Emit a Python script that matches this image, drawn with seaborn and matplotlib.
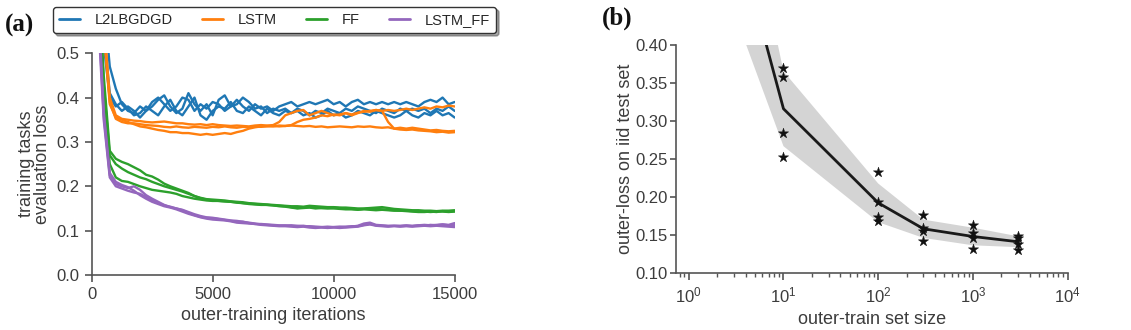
import numpy as np
import pandas as pd
import matplotlib
matplotlib.use("Agg")
import matplotlib.pyplot as plt
import seaborn as sns

# ---- panel (a): evaluation loss during outer training, three runs per model ----
iterations = list(range(0, 15001, 250))

l2lbgdgd_runs = [
    [1.5, 0.9, 0.62, 0.47, 0.42, 0.385, 0.37, 0.365, 0.38, 0.37, 0.39, 0.40, 0.385, 0.37, 0.38, 0.40,
     0.395, 0.37, 0.385, 0.375, 0.39, 0.385, 0.37, 0.38, 0.395, 0.38, 0.37, 0.385, 0.375, 0.38, 0.37,
     0.38, 0.385, 0.39, 0.38, 0.385, 0.39, 0.385, 0.39, 0.395, 0.385, 0.39, 0.38, 0.39, 0.395, 0.385,
     0.39, 0.385, 0.39, 0.385, 0.39, 0.385, 0.39, 0.385, 0.38, 0.39, 0.395, 0.39, 0.40, 0.385, 0.39],
    [1.2, 0.75, 0.52, 0.40, 0.38, 0.39, 0.375, 0.36, 0.365, 0.38, 0.37, 0.36, 0.38, 0.395, 0.37, 0.36,
     0.38, 0.40, 0.36, 0.35, 0.37, 0.38, 0.375, 0.39, 0.37, 0.365, 0.38, 0.37, 0.36, 0.375, 0.365,
     0.36, 0.37, 0.365, 0.37, 0.36, 0.365, 0.355, 0.36, 0.37, 0.36, 0.365, 0.355, 0.36, 0.37, 0.365,
     0.36, 0.37, 0.365, 0.36, 0.355, 0.36, 0.37, 0.36, 0.355, 0.365, 0.36, 0.37, 0.36, 0.365, 0.355],
    [1.3, 0.8, 0.55, 0.41, 0.385, 0.37, 0.38, 0.37, 0.355, 0.37, 0.38, 0.395, 0.405, 0.38, 0.365, 0.375,
     0.41, 0.385, 0.37, 0.385, 0.36, 0.395, 0.405, 0.38, 0.385, 0.40, 0.39, 0.375, 0.38, 0.365, 0.375,
     0.37, 0.375, 0.365, 0.375, 0.37, 0.36, 0.37, 0.365, 0.375, 0.37, 0.365, 0.375, 0.37, 0.38, 0.375,
     0.37, 0.365, 0.375, 0.37, 0.365, 0.375, 0.37, 0.375, 0.37, 0.375, 0.365, 0.375, 0.37, 0.38, 0.37],
]

lstm_runs = [
    [1.2, 0.8, 0.55, 0.385, 0.355, 0.35, 0.345, 0.34, 0.335, 0.333, 0.33, 0.327, 0.325, 0.322, 0.322,
     0.32, 0.32, 0.318, 0.316, 0.318, 0.316, 0.318, 0.32, 0.318, 0.322, 0.325, 0.33, 0.333, 0.335, 0.335,
     0.336, 0.335, 0.336, 0.337, 0.336, 0.335, 0.336, 0.334, 0.335, 0.333, 0.334, 0.335, 0.334, 0.333,
     0.335, 0.334, 0.335, 0.333, 0.332, 0.333, 0.33, 0.328, 0.327, 0.328, 0.326, 0.325, 0.324, 0.322,
     0.323, 0.321, 0.322],
    [1.3, 0.85, 0.58, 0.40, 0.36, 0.352, 0.35, 0.348, 0.347, 0.345, 0.344, 0.345, 0.346, 0.344, 0.342,
     0.342, 0.34, 0.339, 0.34, 0.338, 0.34, 0.338, 0.337, 0.336, 0.337, 0.336, 0.335, 0.337, 0.338, 0.337,
     0.338, 0.345, 0.36, 0.365, 0.37, 0.372, 0.36, 0.365, 0.37, 0.365, 0.36, 0.362, 0.365, 0.36, 0.365,
     0.37, 0.368, 0.372, 0.37, 0.372, 0.37, 0.372, 0.375, 0.372, 0.375, 0.378, 0.375, 0.38, 0.378, 0.382,
     0.38],
    [1.25, 0.82, 0.56, 0.39, 0.352, 0.345, 0.342, 0.342, 0.34, 0.338, 0.337, 0.336, 0.334, 0.333, 0.335,
     0.333, 0.332, 0.334, 0.333, 0.332, 0.334, 0.333, 0.335, 0.333, 0.332, 0.334, 0.333, 0.335, 0.334,
     0.336, 0.335, 0.337, 0.336, 0.338, 0.345, 0.35, 0.352, 0.355, 0.36, 0.358, 0.362, 0.36, 0.365, 0.362,
     0.366, 0.368, 0.37, 0.372, 0.37, 0.345, 0.33, 0.332, 0.33, 0.332, 0.33, 0.328, 0.326, 0.327, 0.325,
     0.324, 0.325],
]

ff_runs = [
    [1.1, 0.7, 0.45, 0.28, 0.262, 0.255, 0.25, 0.243, 0.236, 0.226, 0.222, 0.215, 0.206, 0.2, 0.195, 0.19,
     0.185, 0.178, 0.174, 0.171, 0.17, 0.169, 0.168, 0.166, 0.165, 0.164, 0.162, 0.161, 0.16, 0.159, 0.158,
     0.157, 0.156, 0.155, 0.155, 0.154, 0.156, 0.155, 0.154, 0.153, 0.153, 0.152, 0.152, 0.151, 0.15, 0.15,
     0.151, 0.152, 0.153, 0.151, 0.149, 0.148, 0.147, 0.146, 0.146, 0.145, 0.145, 0.144, 0.145, 0.145,
     0.146],
    [1.15, 0.72, 0.43, 0.27, 0.25, 0.24, 0.232, 0.226, 0.22, 0.216, 0.21, 0.205, 0.2, 0.196, 0.192, 0.188,
     0.183, 0.178, 0.173, 0.17, 0.168, 0.167, 0.166, 0.165, 0.164, 0.162, 0.161, 0.16, 0.159, 0.158, 0.157,
     0.156, 0.155, 0.153, 0.151, 0.152, 0.153, 0.152, 0.151, 0.151, 0.152, 0.151, 0.15, 0.149, 0.148, 0.149,
     0.15, 0.149, 0.148, 0.147, 0.146, 0.145, 0.145, 0.144, 0.143, 0.143, 0.142, 0.143, 0.143, 0.142,
     0.143],
    [1.05, 0.66, 0.4, 0.25, 0.22, 0.212, 0.21, 0.205, 0.2, 0.196, 0.192, 0.19, 0.188, 0.186, 0.183, 0.178,
     0.175, 0.172, 0.17, 0.168, 0.167, 0.167, 0.166, 0.165, 0.163, 0.162, 0.16, 0.159, 0.158, 0.158, 0.157,
     0.155, 0.154, 0.152, 0.15, 0.151, 0.152, 0.15, 0.151, 0.15, 0.15, 0.149, 0.148, 0.148, 0.147, 0.148,
     0.147, 0.146, 0.147, 0.146, 0.145, 0.145, 0.144, 0.143, 0.142, 0.142, 0.143, 0.142, 0.144, 0.143,
     0.144],
]

lstm_ff_runs = [
    [1.0, 0.62, 0.36, 0.225, 0.205, 0.2, 0.196, 0.2, 0.192, 0.18, 0.172, 0.165, 0.158, 0.153, 0.15, 0.146,
     0.14, 0.135, 0.131, 0.129, 0.128, 0.126, 0.124, 0.122, 0.12, 0.12, 0.118, 0.116, 0.114, 0.113, 0.112,
     0.111, 0.111, 0.112, 0.11, 0.111, 0.109, 0.108, 0.108, 0.107, 0.108, 0.109, 0.108, 0.109, 0.111,
     0.116, 0.118, 0.113, 0.112, 0.111, 0.111, 0.11, 0.111, 0.11, 0.112, 0.111, 0.113, 0.112, 0.114,
     0.113, 0.117],
    [1.05, 0.64, 0.37, 0.23, 0.21, 0.203, 0.198, 0.19, 0.18, 0.172, 0.165, 0.16, 0.155, 0.152, 0.148,
     0.143, 0.138, 0.134, 0.13, 0.127, 0.125, 0.124, 0.123, 0.121, 0.118, 0.117, 0.116, 0.115, 0.113,
     0.112, 0.111, 0.11, 0.11, 0.109, 0.108, 0.109, 0.107, 0.106, 0.107, 0.106, 0.107, 0.106, 0.107, 0.108,
     0.109, 0.112, 0.114, 0.111, 0.11, 0.109, 0.11, 0.109, 0.11, 0.109, 0.11, 0.111, 0.11, 0.111, 0.11,
     0.109, 0.108],
    [0.95, 0.6, 0.35, 0.22, 0.2, 0.195, 0.19, 0.186, 0.183, 0.176, 0.168, 0.162, 0.157, 0.154, 0.15, 0.147,
     0.142, 0.137, 0.133, 0.13, 0.129, 0.127, 0.125, 0.123, 0.122, 0.12, 0.117, 0.115, 0.115, 0.114, 0.113,
     0.112, 0.112, 0.111, 0.111, 0.11, 0.11, 0.109, 0.108, 0.109, 0.108, 0.108, 0.109, 0.11, 0.11, 0.113,
     0.115, 0.112, 0.111, 0.11, 0.111, 0.111, 0.112, 0.111, 0.112, 0.113, 0.112, 0.113, 0.114, 0.112,
     0.113],
]

model_names = ["L2LBGDGD", "LSTM", "FF", "LSTM_FF"]
model_colors = ["#1f77b4", "#ff7f0e", "#2ca02c", "#9467bd"]

# ---- panel (b): outer-loss against outer-train set size, four seeds each ----
set_sizes = [1, 10, 100, 300, 1000, 3000]
seed_losses = [
    [1.01, 0.87, 0.69, 0.55],
    [0.370, 0.358, 0.284, 0.253],
    [0.2335, 0.194, 0.174, 0.169],
    [0.1766, 0.159, 0.1556, 0.143],
    [0.1635, 0.1526, 0.146, 0.1315],
    [0.149, 0.147, 0.139, 0.131],
]

# ---- long-form tables ----
rows = []
for name, runs in zip(model_names, [l2lbgdgd_runs, lstm_runs, ff_runs, lstm_ff_runs]):
    for r, run in enumerate(runs):
        for it, v in zip(iterations, run):
            rows.append({"model": name, "run": r, "iteration": it, "loss": v})
curves = pd.DataFrame(rows)

pts = pd.DataFrame([{"size": s, "loss": v} for s, vals in zip(set_sizes, seed_losses) for v in vals])
summary = pts.groupby("size")["loss"].agg(mean="mean", sd=lambda v: np.std(v)).reset_index()

# ---- style ----
sns.set_theme(style="ticks")
text_color = "#3c3c3c"
plt.rcParams.update({
    "font.family": ["Liberation Sans", "DejaVu Sans"],
    "axes.edgecolor": "#555555",
    "axes.labelcolor": text_color,
    "xtick.color": "#555555",
    "ytick.color": "#555555",
    "xtick.labelcolor": text_color,
    "ytick.labelcolor": text_color,
    "axes.linewidth": 1.2,
    "xtick.major.width": 1.2,
    "ytick.major.width": 1.2,
    "xtick.major.size": 5,
    "ytick.major.size": 5,
})

fig = plt.figure(figsize=(11.31, 3.30), dpi=100)
ax_a = fig.add_axes([0.081, 0.1667, 0.321, 0.672])
ax_b = fig.add_axes([0.598, 0.1717, 0.346, 0.692])

# panel (a)
sns.lineplot(data=curves, x="iteration", y="loss", hue="model", units="run", estimator=None,
             palette=model_colors, hue_order=model_names, linewidth=1.7, ax=ax_a, legend=True)
ax_a.set_xlim(0, 15000)
ax_a.set_ylim(0, 0.5)
ax_a.set_xticks([0, 5000, 10000, 15000])
ax_a.set_yticks([0.0, 0.1, 0.2, 0.3, 0.4, 0.5])
ax_a.set_yticklabels([f"{t:.1f}" for t in [0.0, 0.1, 0.2, 0.3, 0.4, 0.5]])
ax_a.set_xlabel("outer-training iterations", fontsize=13)
ax_a.set_ylabel("training tasks\nevaluation loss", fontsize=13, linespacing=0.95)
ax_a.tick_params(labelsize=12)
handles, labels = ax_a.get_legend_handles_labels()
ax_a.get_legend().remove()
for h in handles:
    h.set_linewidth(2.0)
fig.legend(handles, labels, loc="upper left", bbox_to_anchor=(0.0469, 0.979),
           ncol=4, fontsize=10.5, frameon=True, shadow=True, fancybox=True,
           edgecolor="#333333", handlelength=1.45, borderaxespad=0, borderpad=0.42,
           handletextpad=1.0, columnspacing=2.0)

# panel (b)
ax_b.set_xscale("log")
ax_b.fill_between(summary["size"], summary["mean"] - summary["sd"], summary["mean"] + summary["sd"],
                  color="#d4d4d4", linewidth=0)
sns.lineplot(data=summary, x="size", y="mean", color="#1a1a1a", linewidth=2.0, ax=ax_b)
sns.scatterplot(data=pts, x="size", y="loss", marker="*", s=60, color="#111111",
                edgecolor="#111111", linewidth=0.3, ax=ax_b, zorder=5)
ax_b.set_xlim(0.74, 1e4)
ax_b.set_ylim(0.10, 0.40)
ax_b.set_yticks([0.10, 0.15, 0.20, 0.25, 0.30, 0.35, 0.40])
ax_b.set_yticklabels([f"{t:.2f}" for t in [0.10, 0.15, 0.20, 0.25, 0.30, 0.35, 0.40]])
ax_b.set_xticks([1, 10, 100, 1000, 10000])
ax_b.xaxis.set_minor_locator(matplotlib.ticker.LogLocator(base=10, subs=np.arange(2, 10), numticks=20))
ax_b.tick_params(axis="x", which="minor", length=3, width=1.0, color="#555555")
ax_b.tick_params(axis="y", length=4, pad=2)
ax_b.set_xlabel("outer-train set size", fontsize=13)
ax_b.set_ylabel("outer-loss on iid test set", fontsize=13, labelpad=1)
ax_b.tick_params(labelsize=12)

sns.despine(fig=fig)

fig.text(0.004, 0.905, "(a)", fontsize=18, fontweight="bold", family="Liberation Serif", color="#111111")
fig.text(0.532, 0.925, "(b)", fontsize=18, fontweight="bold", family="Liberation Serif", color="#111111")

fig.savefig("out.png", dpi=100)
